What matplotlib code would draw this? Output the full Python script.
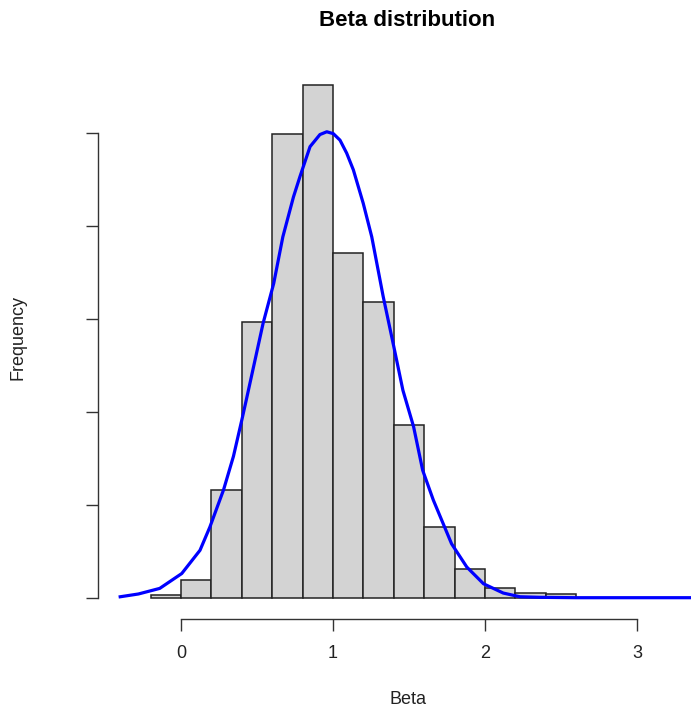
import matplotlib.pyplot as plt

# histogram bins (width 0.2) and counts
bin_left = [-0.2, 0.0, 0.2, 0.4, 0.6, 0.8, 1.0, 1.2, 1.4, 1.6, 1.8, 2.0, 2.2, 2.4]
counts = [3, 19, 116, 296, 499, 551, 371, 318, 186, 76, 31, 10, 5, 4]

# density curve scaled to counts
curve_x = [-0.40, -0.28, -0.14, 0.005, 0.125, 0.19, 0.28, 0.345, 0.40, 0.43,
           0.54, 0.61, 0.67, 0.74, 0.783, 0.849, 0.914, 0.959, 1.002, 1.046,
           1.090, 1.134, 1.199, 1.255, 1.33, 1.40, 1.46, 1.53, 1.59, 1.66,
           1.78, 1.88, 1.99, 2.12, 2.23, 2.36, 2.6, 3.0, 3.6]
curve_y = [1, 4, 10, 26, 51, 76, 116, 152, 191, 213,
           295, 338, 388, 431, 453, 485, 498, 501, 499, 492,
           478, 460, 424, 388, 324, 270, 223, 184, 137, 105,
           58, 33, 15, 5, 1, 0.4, 0, 0, 0]

W, H = 691, 715
fig = plt.figure(figsize=(W / 100, H / 100), dpi=100)
plt.rcParams['font.family'] = ['Liberation Sans', 'DejaVu Sans']

left, right, top, bottom = 98.3, 717.7, 60, 619.3
ax = fig.add_axes([left / W, 1 - bottom / H, (right - left) / W, (bottom - top) / H])

ax.bar(bin_left, counts, width=0.2, align='edge', color='#d3d3d3',
       edgecolor='#222222', linewidth=1.1)
ax.plot(curve_x, curve_y, color='#0000ff', linewidth=2.3)

ax.set_xlim((left - 181) / 152, (right - 181) / 152)
ax.set_ylim(-(bottom - 597.7) / 0.93, (597.7 - top) / 0.93)

for s in ['top', 'right']:
    ax.spines[s].set_visible(False)
ax.spines['left'].set_bounds(0, 500)
ax.spines['bottom'].set_bounds(0, 3)
for s in ['left', 'bottom']:
    ax.spines[s].set_color('#333333')
    ax.spines[s].set_linewidth(1.0)

ax.set_xticks([0, 1, 2, 3])
ax.set_xticklabels(['0', '1', '2', '3'])
ax.set_yticks([0, 100, 200, 300, 400, 500])
ax.set_yticklabels([])
ax.tick_params(length=8.3, width=1.0, color='#333333', labelsize=13,
               labelcolor='#222222')
ax.tick_params(axis='x', pad=10)

fig.text(407 / W, 1 - 20 / H, 'Beta distribution', fontsize=16,
         fontweight='bold', ha='center', va='center', color='black')
fig.text(408 / W, 1 - 700 / H, 'Beta', fontsize=13, ha='center',
         va='center', color='#222222')
fig.text(18 / W, 1 - 338 / H, 'Frequency', fontsize=13, rotation=90,
         ha='center', va='center', color='#222222')

fig.savefig('out.png', dpi=100)
